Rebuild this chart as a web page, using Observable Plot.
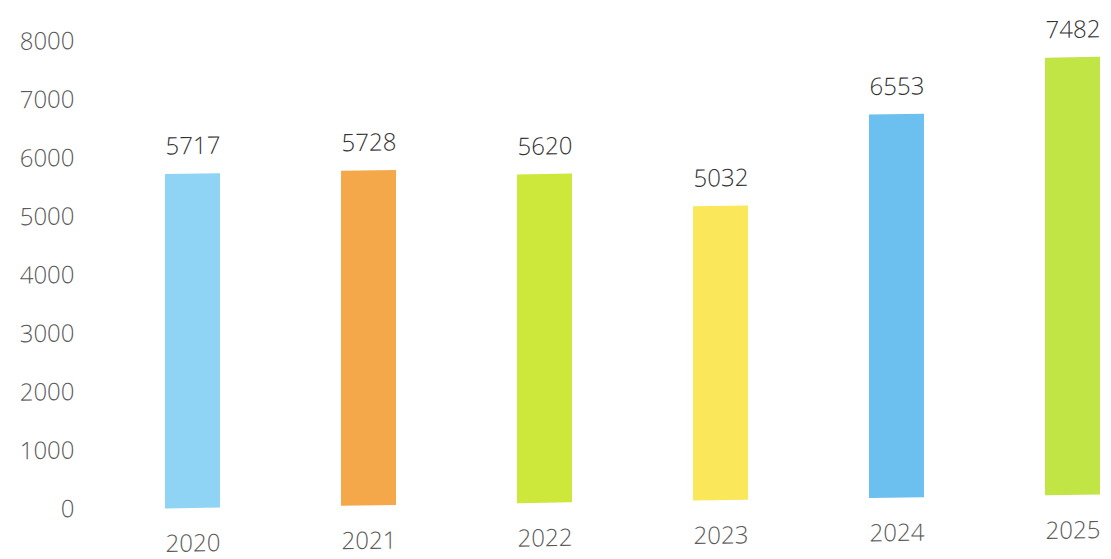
<!DOCTYPE html>
<html>
<head>
<meta charset="utf-8">
<script src="https://cdn.jsdelivr.net/npm/d3@7"></script>
<script src="https://cdn.jsdelivr.net/npm/@observablehq/plot@0.6"></script>
<style>
  html, body { margin: 0; padding: 0; background: #fff; overflow: hidden; }
  #chart svg { display: block; transform-origin: 192px 300px; transform: skewY(-0.85deg); }
</style>
</head>
<body>
<div id="chart"></div>
<script>
const years = ["2020", "2021", "2022", "2023", "2024", "2025"];
const values = [5717, 5728, 5620, 5032, 6553, 7482];
const colors = ["#8fd4f4", "#f5a84a", "#cde83a", "#fbe75a", "#6cc0f0", "#c0e544"];
const yTicks = [0, 1000, 2000, 3000, 4000, 5000, 6000, 7000, 8000];

const data = years.map((y, i) => ({year: y, value: values[i], color: colors[i]}));

const chart = Plot.plot({
  width: 1111,
  height: 559,
  marginTop: 40,
  marginBottom: 51,
  marginLeft: 85,
  marginRight: 11,
  style: {fontFamily: "'Open Sans', sans-serif", fontSize: "24px", color: "#595959", background: "#fff", overflow: "visible"},
  x: {domain: years, paddingInner: 0.69, paddingOuter: 0.227, align: 1, label: null},
  y: {domain: [0, 8000], label: null},
  marks: [
    Plot.axisY({ticks: yTicks, tickFormat: d => String(d), tickSize: 0, tickPadding: 11, dy: -1, label: null, fontSize: 24, fontWeight: 300, fill: "#5a5a5a"}),
    Plot.axisX({tickSize: 0, tickPadding: 26, label: null, fontSize: 24, fontWeight: 300, fill: "#5a5a5a"}),
    Plot.barY(data, {x: "year", y: "value", fill: "color"}),
    Plot.text(data, {x: "year", y: "value", text: d => String(d.value), lineAnchor: "bottom", dy: -20, fontSize: 24, fontWeight: 300, fill: "#333333"})
  ]
});
document.getElementById("chart").appendChild(chart);
</script>
</body>
</html>
